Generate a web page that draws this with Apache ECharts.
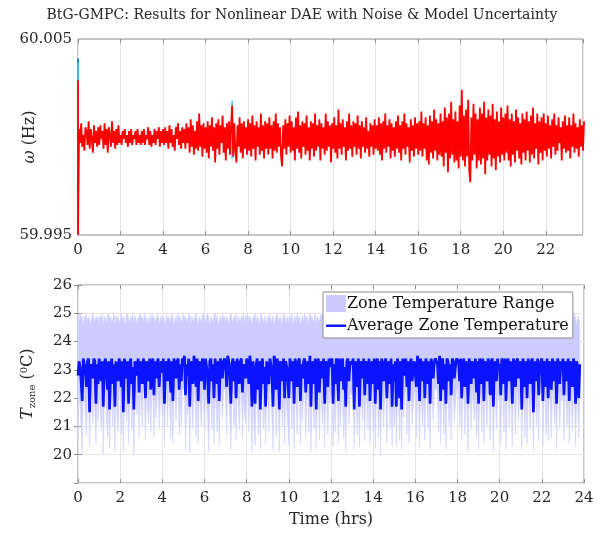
<!DOCTYPE html>
<html>
<head>
<meta charset="utf-8">
<script src="https://cdn.jsdelivr.net/npm/echarts@6/dist/echarts.min.js"></script>
<style>
html,body{margin:0;padding:0;background:#fff;}
#chart{width:604px;height:533px;}
</style>
</head>
<body>
<div id="chart"></div>
<script>
// ---------- DATA ----------
const titleText = 'BtG-GMPC: Results for Nonlinear DAE with Noise & Model Uncertainty';
const timeStep = 0.05; // hours between samples (t = 0 ... 23.8)

// frequency omega (Hz); sample 0 is the bottom of the initial transient
const omegaInitPeak = 60.0029;
const omega = [59.9950,
60.0004,59.9997,60.0007,59.9995,60.0001,59.9993,60.0005,60.0003,59.9996,60.0008,59.9994,60.0004,59.9999,59.9992,60.0006,59.9997,60.0003,59.9995,60.0005,59.9996,
60.0006,59.9999,60.0003,59.9994,60.0007,59.9996,60.0004,59.9992,60.0005,60.0001,59.9995,60.0008,59.9997,60.0003,59.9994,60.0004,59.9996,60.0006,59.9997,60.0001,
59.9996,60.0003,59.9999,60.0004,59.9997,60.0001,59.9995,60.0003,59.9997,60.0004,59.9996,60.0001,59.9999,60.0003,59.9996,60.0004,59.9997,60.0001,59.9996,60.0003,
59.9997,60.0004,59.9996,60.0001,59.9999,60.0005,59.9996,60.0003,59.9995,60.0001,59.9997,60.0004,59.9996,60.0003,59.9999,60.0005,59.9995,60.0003,59.9997,60.0004,
59.9996,60.0005,59.9997,60.0003,59.9994,60.0006,59.9997,60.0004,59.9995,60.0001,59.9993,60.0005,59.9999,60.0007,59.9996,60.0003,59.9994,60.0005,59.9997,60.0004,
59.9994,60.0007,59.9997,60.0005,59.9992,60.0009,59.9995,60.0006,59.9991,60.0003,59.9994,60.0008,59.9993,60.0012,59.9995,60.0006,59.9990,60.0007,59.9994,60.0005,
59.9992,60.0008,59.9989,60.0006,59.9995,60.0010,59.9993,60.0005,59.9987,60.0007,59.9994,60.0009,59.9991,60.0006,59.9997,60.0011,59.9992,60.0005,59.9988,60.0007,
59.9994,60.0008,59.9991,60.0006,60.0016,59.9990,60.0007,59.9993,59.9987,60.0006,59.9995,60.0010,59.9992,60.0007,59.9989,60.0008,59.9994,60.0005,59.9991,60.0009,
59.9993,60.0007,59.9990,60.0011,59.9994,60.0006,59.9988,60.0008,59.9995,60.0005,59.9991,60.0012,59.9993,60.0006,59.9989,60.0008,59.9994,60.0007,59.9991,60.0010,
59.9994,60.0006,59.9989,60.0008,59.9993,60.0012,59.9992,60.0007,59.9995,60.0005,59.9990,59.9985,60.0006,59.9994,60.0009,59.9991,60.0007,59.9995,60.0011,59.9992,
60.0008,59.9993,60.0005,59.9988,60.0010,59.9994,60.0013,59.9992,60.0006,59.9989,60.0008,59.9995,60.0007,59.9991,60.0011,59.9993,60.0005,59.9988,60.0008,59.9994,
60.0007,59.9990,60.0012,59.9993,60.0006,59.9995,60.0009,59.9988,60.0007,59.9994,60.0005,59.9991,60.0012,59.9993,60.0008,59.9995,60.0006,59.9987,60.0007,59.9994,
60.0010,59.9992,60.0006,59.9989,60.0014,59.9994,60.0007,59.9991,60.0009,59.9995,60.0005,59.9988,60.0008,59.9993,60.0012,59.9994,60.0006,59.9990,60.0008,59.9995,
60.0007,59.9991,60.0011,59.9994,60.0006,59.9989,60.0008,59.9995,60.0005,59.9992,60.0010,59.9994,60.0003,59.9990,60.0007,59.9995,60.0006,59.9991,60.0009,59.9994,
60.0006,59.9993,60.0010,59.9991,60.0007,59.9988,60.0008,59.9994,60.0012,59.9992,60.0006,59.9995,60.0009,59.9989,60.0007,59.9993,60.0005,59.9990,60.0008,59.9994,
60.0011,59.9992,60.0006,59.9988,60.0008,59.9994,60.0012,59.9991,60.0007,59.9995,60.0005,59.9987,60.0009,59.9993,60.0006,59.9990,60.0010,59.9994,60.0007,59.9991,
60.0008,59.9993,60.0013,59.9990,60.0007,59.9994,60.0010,59.9988,60.0006,59.9986,60.0011,59.9992,60.0008,59.9989,60.0014,59.9993,60.0009,59.9988,60.0007,59.9991,
60.0012,59.9990,60.0008,59.9985,60.0015,59.9992,60.0010,59.9982,60.0012,59.9989,60.0018,59.9991,60.0009,59.9987,60.0013,59.9988,60.0008,59.9984,60.0016,59.9990,
60.0024,59.9988,60.0011,59.9985,60.0014,59.9990,60.0019,59.9983,59.9977,60.0010,59.9988,60.0017,59.9991,60.0012,59.9984,60.0009,59.9988,60.0015,59.9986,60.0012,
59.9989,60.0018,59.9981,60.0010,59.9988,60.0014,59.9991,60.0011,59.9985,60.0017,59.9989,60.0009,59.9983,60.0013,59.9990,60.0008,59.9987,60.0015,59.9991,60.0010,
59.9988,60.0012,59.9992,60.0016,59.9988,60.0009,59.9985,60.0012,59.9991,60.0008,59.9987,60.0014,59.9993,60.0010,59.9989,60.0007,59.9986,60.0012,59.9992,60.0009,
59.9988,60.0013,59.9993,60.0008,59.9987,60.0011,59.9991,60.0015,59.9989,60.0007,59.9994,60.0012,59.9986,60.0008,59.9992,60.0010,59.9988,60.0012,59.9993,60.0007,
59.9990,60.0011,59.9994,60.0006,59.9989,60.0009,59.9995,60.0012,59.9991,60.0006,59.9993,60.0010,59.9997,60.0005,59.9988,60.0008,59.9994,60.0011,59.9992,60.0006,
59.9993,60.0010,59.9989,60.0006,59.9995,60.0012,59.9992,60.0007,59.9994,60.0005,59.9990,60.0009,59.9995,60.0006,59.9993,60.0008];

// other generators, visible only at the transient spikes
const genDark = [[0, 59.9950], [0, 60.0040]];
const genCyan = [[0, 59.9950], [0, 60.0038], null, [7.25, 59.9989], [7.25, 60.00185]];

// zone temperatures (deg C), same sample times
const tAvg = [
22.8,23.3,23.1,22.6,21.9,23.4,23.2,23.0,22.4,23.3,23.4,21.5,23.2,23.1,22.7,23.4,23.3,21.8,23.2,22.5,
23.4,23.1,22.6,23.3,21.7,23.2,23.4,22.9,22.3,23.3,21.6,23.1,23.4,22.5,23.2,21.7,23.3,23.0,22.6,23.4,
23.2,22.4,23.3,21.5,23.4,23.1,22.7,23.3,21.8,23.2,23.4,22.5,23.1,21.6,23.3,23.2,22.8,23.4,22.2,23.3,
23.1,22.5,23.4,23.2,22.0,23.3,23.1,22.6,23.4,22.3,23.2,23.4,22.1,23.3,22.7,23.2,23.4,22.4,23.1,23.3,
22.9,23.4,21.8,23.2,23.3,22.6,23.4,23.1,22.2,23.3,21.9,23.4,23.2,22.7,23.3,23.4,22.3,23.2,22.6,23.4,
23.3,23.5,22.1,23.2,22.8,23.4,21.7,23.3,23.1,22.5,23.5,23.2,22.4,23.4,21.9,23.3,23.1,22.6,23.4,23.2,
22.3,23.4,23.1,22.7,21.8,23.3,23.4,22.6,23.2,22.0,23.4,23.1,22.5,23.3,21.9,23.4,23.2,22.7,23.3,23.4,
23.2,22.4,23.5,23.3,22.8,21.8,23.2,23.4,22.6,23.3,22.0,23.4,23.1,22.5,23.3,23.4,22.2,23.2,23.0,22.7,
23.4,23.2,22.5,23.5,23.1,21.7,23.3,22.6,21.8,23.2,23.4,22.3,23.3,21.6,23.2,23.4,22.5,23.1,21.7,23.3,
23.3,22.5,23.4,23.2,22.8,21.7,23.5,23.3,22.3,23.4,23.1,21.6,23.3,23.2,22.6,23.4,22.0,23.3,23.1,22.7,
22.0,23.4,23.2,22.6,23.3,21.8,23.4,23.1,22.4,23.3,23.4,21.9,23.2,22.7,23.3,23.4,22.2,23.1,23.3,22.5,
23.5,21.7,23.3,23.1,22.5,23.4,21.6,23.2,23.4,22.2,23.3,23.1,22.7,23.4,21.8,23.3,23.2,22.4,23.4,23.1,
23.3,23.4,21.8,23.2,22.5,23.4,23.3,21.9,23.4,22.6,23.2,23.4,22.3,23.1,21.7,23.3,23.4,22.6,23.2,23.3,
23.2,23.4,21.6,23.3,23.1,22.4,23.4,21.7,23.3,23.2,22.7,23.4,22.1,23.3,23.2,22.5,23.4,21.9,23.1,23.3,
22.5,23.4,21.8,23.2,23.4,22.3,23.3,21.6,23.4,23.1,22.6,23.3,23.4,22.0,23.2,23.3,22.5,23.4,21.7,23.2,
22.6,23.3,21.7,23.4,23.2,22.0,23.3,21.6,23.4,22.8,23.2,23.4,22.4,23.3,21.9,23.2,23.4,22.6,23.1,23.3,
23.3,22.4,23.5,23.2,21.9,23.4,23.1,22.6,23.3,22.0,23.4,23.2,22.5,23.3,21.8,23.4,23.1,22.7,23.3,23.4,
23.4,23.2,22.5,23.5,21.9,23.3,23.4,22.3,23.2,21.8,23.4,23.3,22.6,23.2,22.1,23.4,23.3,22.7,23.1,23.4,
23.4,23.3,22.6,23.4,22.0,23.2,23.4,22.4,23.3,23.1,21.8,23.4,23.2,22.5,23.3,23.1,22.7,23.4,22.2,23.3,
21.8,23.4,23.2,22.5,23.4,21.9,23.3,23.1,22.6,23.4,23.2,22.1,23.3,23.4,21.7,23.2,23.3,22.6,23.4,23.1,
23.2,22.1,23.4,23.3,22.5,23.4,21.9,23.2,23.4,22.6,23.3,23.1,21.8,23.4,23.2,22.4,23.3,23.4,22.7,23.2,
23.3,21.6,23.4,23.2,22.4,23.3,22.0,23.4,23.1,22.5,23.3,23.4,21.5,23.2,23.3,22.6,23.4,22.1,23.2,23.3,
23.4,21.9,23.3,23.2,22.4,23.4,22.0,23.3,23.1,22.3,23.4,23.2,22.6,23.3,21.8,23.4,23.2,22.5,23.3,23.1,
23.4,22.1,23.3,23.2,22.6,23.4,21.9,23.3,23.1,22.4,23.4,23.2,21.8,23.3,23.1,22.0,23.2];

const tMin = [
20.5,22.3,21.8,21.0,20.0,22.4,22.1,21.4,20.7,22.2,22.4,20.3,21.9,22.2,21.1,22.3,21.6,20.4,22.2,21.2,
22.4,21.7,20.9,22.3,20.0,22.2,22.4,21.3,20.6,22.1,20.2,21.8,22.3,21.0,22.2,20.1,22.4,21.5,20.8,22.3,
22.2,20.7,22.3,20.1,22.4,21.9,21.2,22.2,20.4,22.1,22.4,20.9,21.8,20.0,22.3,22.1,21.4,22.4,20.6,22.2,
21.8,21.0,22.4,22.2,20.5,22.3,21.7,21.1,22.4,20.8,22.2,22.3,20.6,22.2,21.3,22.1,22.4,20.9,21.9,22.3,
21.3,22.4,20.3,22.1,22.3,21.0,22.4,21.8,20.6,22.2,20.4,22.3,22.1,21.2,22.3,22.4,20.7,22.1,21.0,22.3,
22.3,22.4,20.2,22.1,21.4,22.4,20.1,22.2,21.8,20.9,22.4,22.0,20.6,22.3,20.4,22.2,21.7,21.0,22.4,22.1,
20.6,22.3,21.9,21.2,20.1,22.2,22.4,20.9,22.1,20.4,22.3,21.8,20.8,22.2,20.3,22.4,22.1,21.3,22.2,22.4,
22.1,20.7,22.4,22.2,21.3,20.2,22.1,22.3,21.0,22.2,20.5,22.4,21.8,20.9,22.2,22.4,20.6,22.1,21.5,21.1,
22.3,22.1,20.8,22.4,21.9,20.1,22.2,21.0,20.3,22.1,22.4,20.7,22.2,20.2,22.1,22.3,20.9,21.8,20.4,22.2,
22.2,20.8,22.4,22.1,21.3,20.2,22.4,22.2,20.6,22.3,21.8,20.1,22.2,22.0,21.0,22.4,20.4,22.2,21.7,21.1,
20.3,22.3,22.1,20.9,22.2,20.2,22.4,21.8,20.7,22.2,22.4,20.4,22.1,21.2,22.2,22.3,20.6,21.9,22.2,20.8,
22.4,20.1,22.2,21.8,20.9,22.3,20.2,22.1,22.4,20.5,22.2,21.9,21.1,22.3,20.3,22.2,22.0,20.7,22.3,21.8,
22.2,22.4,20.3,22.1,20.8,22.3,22.2,20.4,22.4,21.0,22.1,22.3,20.6,21.8,20.1,22.2,22.4,21.1,22.1,22.2,
22.1,22.3,20.2,22.2,21.8,20.7,22.4,20.3,22.2,22.1,21.2,22.3,20.5,22.2,22.0,20.9,22.4,20.4,21.8,22.2,
20.8,22.3,20.2,22.1,22.4,20.6,22.2,20.0,22.3,21.8,21.0,22.2,22.4,20.4,22.1,22.2,20.9,22.3,20.3,22.1,
21.0,22.2,20.3,22.4,22.1,20.5,22.2,20.2,22.3,21.3,22.1,22.4,20.7,22.2,20.4,22.1,22.3,21.1,21.8,22.2,
22.2,20.6,22.4,22.1,20.3,22.3,21.8,21.0,22.2,20.5,22.4,22.1,20.9,22.2,20.2,22.3,21.9,21.2,22.2,22.4,
22.3,22.1,20.8,22.4,20.4,22.2,22.3,20.7,22.1,20.2,22.4,22.2,21.0,22.1,20.5,22.3,22.2,21.2,21.8,22.3,
22.4,22.2,21.0,22.3,20.5,22.1,22.4,20.7,22.2,21.8,20.1,22.3,22.1,20.9,22.2,21.9,21.2,22.4,20.6,22.2,
20.2,22.3,22.1,20.8,22.4,20.4,22.2,21.8,21.0,22.3,22.1,20.5,22.2,22.4,20.1,22.1,22.2,20.9,22.3,21.9,
22.1,20.4,22.3,22.2,20.8,22.4,20.2,22.1,22.3,21.0,22.2,21.8,20.3,22.4,22.1,20.7,22.2,22.3,21.2,22.1,
22.2,20.2,22.4,22.1,20.6,22.2,20.4,22.3,21.8,20.9,22.2,22.4,20.1,22.1,22.2,21.0,22.3,20.5,22.1,22.2,
22.3,20.3,22.2,22.1,20.7,22.4,20.5,22.2,21.8,20.6,22.3,22.1,21.1,22.2,20.2,22.4,22.1,20.9,22.2,21.9,
22.3,20.5,22.2,22.1,21.0,22.4,20.4,22.2,21.8,20.8,22.3,22.1,20.3,22.2,21.9,20.6,22.1];

const tMax = [
24.9,24.7,25.0,24.8,24.9,24.6,24.9,24.8,25.0,24.7,24.9,24.8,24.6,24.9,25.0,24.8,24.7,24.9,24.8,24.9,
24.7,24.9,24.8,25.0,24.6,24.9,24.8,24.7,24.9,25.0,24.8,24.9,24.7,24.8,25.0,24.6,24.9,24.8,24.9,24.7,
24.8,25.0,24.7,24.9,24.8,24.6,24.9,25.0,24.8,24.7,24.9,24.8,25.0,24.7,24.9,24.8,24.6,24.9,24.8,25.0,
24.9,24.8,24.7,25.0,24.8,24.9,24.6,24.8,24.9,24.7,25.0,24.8,24.9,24.7,24.8,24.9,25.0,24.6,24.8,24.9,
24.7,24.9,24.8,24.6,25.0,24.8,24.9,24.7,24.8,25.0,24.9,24.6,24.8,24.9,24.7,25.0,24.8,24.9,24.7,24.8,
25.0,24.8,24.9,24.7,24.8,24.9,25.0,24.6,24.9,24.8,24.7,24.9,25.0,24.8,24.6,24.9,24.8,24.7,24.9,25.0,
24.8,24.7,24.9,25.0,24.8,24.6,24.9,24.8,24.7,24.9,25.0,24.8,24.9,24.6,24.8,24.9,24.7,25.0,24.8,24.9,
24.7,24.9,24.8,24.6,24.9,25.0,24.8,24.7,24.9,24.8,25.0,24.6,24.9,24.8,24.7,24.9,24.8,25.0,24.7,24.9,
24.8,25.0,24.7,24.9,24.8,24.6,24.9,24.8,25.0,24.7,24.9,24.8,24.6,24.9,25.0,24.8,24.7,24.9,24.8,24.6,
24.9,24.8,25.0,24.7,24.8,24.9,24.6,24.8,24.9,25.0,24.7,24.8,24.9,24.6,24.8,25.0,24.9,24.7,24.8,24.9,
24.7,24.9,24.8,25.0,24.6,24.8,24.9,24.7,25.0,24.8,24.9,24.6,24.8,24.9,24.7,25.0,24.8,24.9,24.7,24.8,
25.0,24.8,24.9,24.7,24.8,25.0,24.6,24.9,24.8,24.7,24.9,25.0,24.8,24.6,24.9,24.8,24.7,24.9,25.0,24.8,
24.9,24.8,24.7,25.0,24.8,24.9,24.6,24.8,24.9,24.7,25.0,24.8,24.9,24.7,24.8,24.9,25.0,24.6,24.8,24.9,
24.7,24.9,24.8,24.6,24.9,25.0,24.8,24.7,24.9,24.8,25.0,24.6,24.9,24.8,24.7,24.9,24.8,25.0,24.7,24.9,
24.7,24.9,24.8,25.0,24.6,24.9,24.8,24.7,24.9,25.0,24.8,24.9,24.7,24.8,25.0,24.6,24.9,24.8,24.9,24.7,
24.9,24.8,25.0,24.7,24.8,24.9,24.6,24.8,24.9,25.0,24.7,24.8,24.9,24.6,24.8,25.0,24.9,24.7,24.8,24.9,
25.0,24.8,24.9,24.7,24.8,24.9,25.0,24.6,24.9,24.8,24.7,24.9,25.0,24.8,24.6,24.9,24.8,24.7,24.9,25.0,
24.9,24.7,25.0,24.8,24.9,24.6,24.9,24.8,25.0,24.7,24.9,24.8,24.6,24.9,25.0,24.8,24.7,24.9,24.8,24.9,
24.7,24.9,24.8,25.0,24.6,24.8,24.9,24.7,25.0,24.8,24.9,24.6,24.8,24.9,24.7,25.0,24.8,24.9,24.7,24.8,
24.8,25.0,24.7,24.9,24.8,24.6,24.9,25.0,24.8,24.7,24.9,24.8,25.0,24.7,24.9,24.8,24.6,24.9,24.8,25.0,
24.8,25.0,24.7,24.9,24.8,24.6,24.9,24.8,25.0,24.7,24.9,24.8,24.6,24.9,25.0,24.8,24.7,24.9,24.8,24.6,
24.7,24.9,24.8,24.6,25.0,24.8,24.9,24.7,24.8,25.0,24.9,24.6,24.8,24.9,24.7,25.0,24.8,24.9,24.7,24.8,
24.8,24.7,24.9,25.0,24.8,24.6,24.9,24.8,24.7,24.9,25.0,24.8,24.9,24.6,24.8,24.9,24.7,25.0,24.8,24.9,
25.0,24.8,24.9,24.7,24.8,25.0,24.6,24.9,24.8,24.7,24.9,25.0,24.8,24.6,24.9,24.8,24.7];

const xTicksTop = {min: 0, max: 23.75, interval: 2};
const xTicksBottom = {min: 0, max: 24, interval: 2};
const yTicksTop = {min: 59.995, max: 60.005, interval: 0.01};
const yTicksBottom = {min: 19, max: 26, interval: 1};

// ---------- BUILD ----------
const times = omega.map((_, i) => Math.round(i * timeStep * 100) / 100);
const omegaData = [[0, omegaInitPeak]].concat(omega.map((v, i) => [times[i], v]));
const bandData = tMin.map((v, i) => [times[i], v, tMax[i]]);
const avgData = tAvg.map((v, i) => [times[i], v]);

const FONT = 'DejaVu Serif';
const TXT = '#262626';
const AX = '#8c8c8c';
const GRIDC = '#e6e6e6';
const BAND = '#ccccff';

function xAx(grid, t, extra) {
  return Object.assign({
    gridIndex: grid, type: 'value', min: t.min, max: t.max, interval: t.interval,
    axisLine: {show: false},
    axisTick: {show: true, inside: true, length: 4, lineStyle: {color: AX}},
    axisLabel: {fontFamily: FONT, fontSize: 15, color: TXT, margin: 8, showMaxLabel: t.max % t.interval === 0},
    splitLine: {show: true, lineStyle: {color: GRIDC, width: 1}}
  }, extra || {});
}
function mirrorX(grid, t) {
  return {gridIndex: grid, type: 'value', position: 'top', min: t.min, max: t.max, interval: t.interval,
    axisLine: {show: false}, axisLabel: {show: false}, splitLine: {show: false},
    axisTick: {show: true, inside: true, length: 4, lineStyle: {color: AX}}};
}

function renderBand(params, api) {
  if (params.dataIndex !== 0) return null;
  const pts = [];
  for (let i = 0; i < bandData.length; i++) pts.push(api.coord([bandData[i][0], bandData[i][2]]));
  for (let i = bandData.length - 1; i >= 0; i--) pts.push(api.coord([bandData[i][0], bandData[i][1]]));
  return {type: 'polygon', shape: {points: pts}, style: {fill: BAND, stroke: '#d6d6ff', lineWidth: 0.7}};
}

const option = {
  animation: false,
  backgroundColor: '#fff',
  title: {
    text: titleText, left: 'center', top: 3,
    textStyle: {fontFamily: FONT, fontSize: 14, fontWeight: 'normal', color: TXT}
  },
  grid: [
    {left: 78, right: 21, top: 39, height: 196, show: true, borderColor: AX, borderWidth: 1, outerBoundsMode: 'none', containLabel: false},
    {left: 78, right: 20, top: 285, height: 198, show: true, borderColor: AX, borderWidth: 1, outerBoundsMode: 'none', containLabel: false}
  ],
  xAxis: [
    xAx(0, xTicksTop),
    xAx(1, xTicksBottom, {name: 'Time (hrs)', nameLocation: 'middle', nameGap: 29, nameMoveOverlap: false,
      nameTextStyle: {fontFamily: FONT, fontSize: 16, color: TXT}}),
    mirrorX(0, xTicksTop),
    mirrorX(1, xTicksBottom)
  ],
  yAxis: [
    {gridIndex: 0, type: 'value', min: yTicksTop.min, max: yTicksTop.max, interval: yTicksTop.interval,
      axisLine: {show: false}, axisTick: {show: false},
      axisLabel: {fontFamily: FONT, fontSize: 15, color: TXT, margin: 6, formatter: v => v.toFixed(3)},
      splitLine: {show: false},
      name: '{i|ω} (Hz)', nameLocation: 'middle', nameGap: 40, nameMoveOverlap: false,
      nameTextStyle: {fontFamily: FONT, fontSize: 16, color: TXT,
        rich: {i: {fontFamily: FONT, fontStyle: 'italic', fontSize: 16, color: TXT}}}},
    {gridIndex: 1, type: 'value', min: yTicksBottom.min, max: yTicksBottom.max, interval: yTicksBottom.interval,
      axisLine: {show: false},
      axisTick: {show: true, inside: true, length: 4, lineStyle: {color: AX}},
      axisLabel: {fontFamily: FONT, fontSize: 15, color: TXT, margin: 6, showMinLabel: false},
      splitLine: {show: true, lineStyle: {color: GRIDC, width: 1}},
      name: '{i|T}{s|zone} ({p|0}C)', nameLocation: 'middle', nameGap: 41, nameMoveOverlap: false,
      nameTextStyle: {fontFamily: FONT, fontSize: 16, color: TXT,
        rich: {
          i: {fontFamily: FONT, fontStyle: 'italic', fontSize: 17, color: TXT},
          s: {fontFamily: FONT, fontSize: 10, color: TXT, padding: [8, 0, 0, 0]},
          p: {fontFamily: FONT, fontSize: 10, color: TXT, padding: [0, 0, 8, 0]}
        }}},
    {gridIndex: 1, type: 'value', position: 'right', min: yTicksBottom.min, max: yTicksBottom.max, interval: yTicksBottom.interval,
      axisLine: {show: false}, axisLabel: {show: false}, splitLine: {show: false},
      axisTick: {show: true, inside: true, length: 4, lineStyle: {color: AX}}}
  ],
  legend: {
    orient: 'vertical', left: 323, top: 292,
    backgroundColor: '#fff', borderColor: '#8c8c8c', borderWidth: 1,
    padding: [3, 4, 4, 3], itemGap: 5, itemWidth: 20, itemHeight: 17,
    textStyle: {fontFamily: FONT, fontSize: 16, color: '#111', padding: [0, 0, 0, -4]},
    data: [
      {name: 'Zone Temperature Range', icon: 'rect', itemStyle: {color: BAND}},
      {name: 'Average Zone Temperature', icon: 'path://M0,0h0.05v0.05h-0.05z M0,7.5h20v2.6h-20z M19.95,17h0.05v0.05h-0.05z'}
    ]
  },
  series: [
    {type: 'line', name: 'gen2', xAxisIndex: 0, yAxisIndex: 0, data: genDark, showSymbol: false,
      lineStyle: {color: '#0072BD', width: 1.6}, itemStyle: {color: '#0072BD'}, z: 2},
    {type: 'line', name: 'gen3', xAxisIndex: 0, yAxisIndex: 0, data: genCyan, showSymbol: false, connectNulls: false,
      lineStyle: {color: '#4DBEEE', width: 1.6}, itemStyle: {color: '#4DBEEE'}, z: 3},
    {type: 'line', name: 'omega', xAxisIndex: 0, yAxisIndex: 0, data: omegaData, showSymbol: false,
      lineStyle: {color: '#ff0000', width: 1.8}, itemStyle: {color: '#ff0000'}, z: 4},
    {type: 'custom', name: 'Zone Temperature Range', xAxisIndex: 1, yAxisIndex: 1, data: bandData,
      encode: {x: 0, y: [1, 2]}, renderItem: renderBand, itemStyle: {color: BAND}, z: 2},
    {type: 'line', name: 'Average Zone Temperature', xAxisIndex: 1, yAxisIndex: 1, data: avgData, showSymbol: false,
      lineStyle: {color: '#0a14ff', width: 2.7}, itemStyle: {color: '#0a14ff'}, z: 3}
  ]
};

const chart = echarts.init(document.getElementById('chart'), null, {renderer: 'canvas'});
chart.setOption(option);
</script>
</body>
</html>
